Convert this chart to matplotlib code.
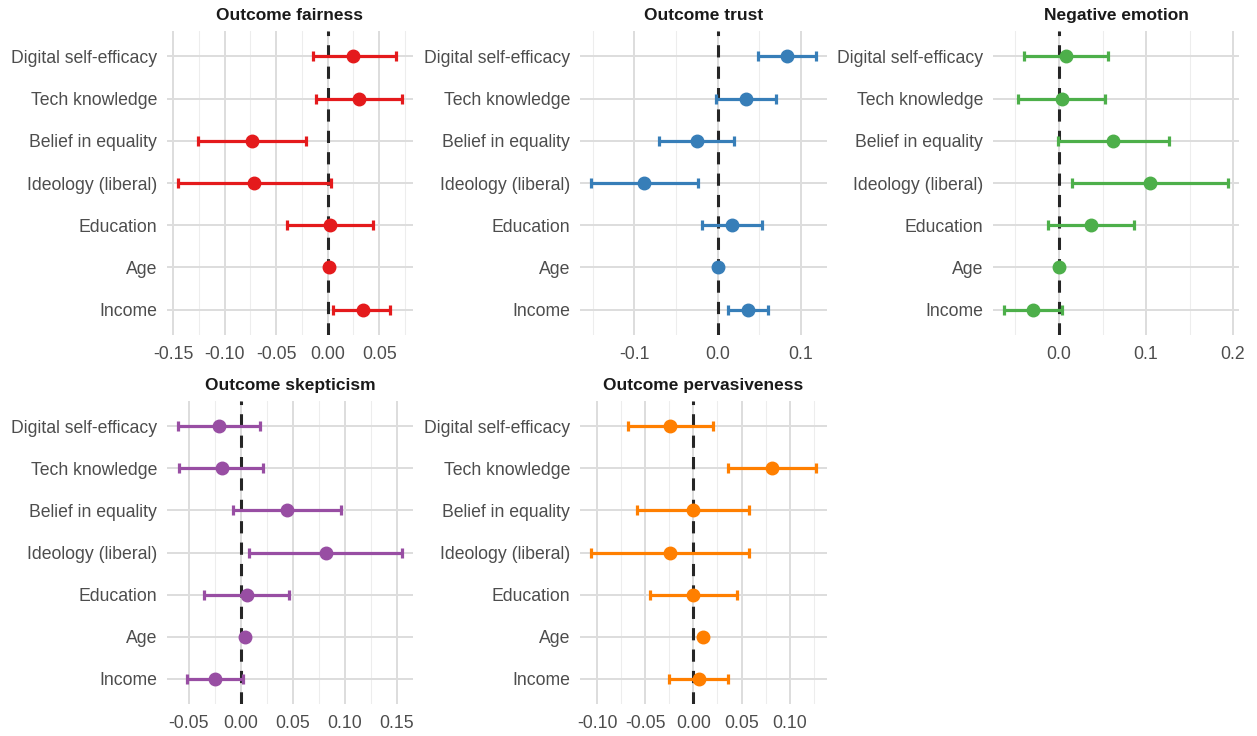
import numpy as np
import matplotlib
matplotlib.use("Agg")
import matplotlib.pyplot as plt
from matplotlib.ticker import FixedLocator

plt.rcParams['font.family'] = ['Liberation Sans', 'DejaVu Sans']

predictors = ["Digital self-efficacy", "Tech knowledge", "Belief in equality",
              "Ideology (liberal)", "Education", "Age", "Income"]

titles = ["Outcome fairness", "Outcome trust", "Negative emotion",
          "Outcome skepticism", "Outcome pervasiveness"]
colors = ["#E41A1C", "#377EB8", "#4DAF4A", "#984EA3", "#FF7F00"]

# Estimates and 95% CI bounds (order follows `predictors`)
fair_est = [0.025, 0.030, -0.073, -0.071, 0.002, 0.001, 0.034]
fair_lo = [-0.014, -0.011, -0.126, -0.145, -0.039, -0.001, 0.005]
fair_hi = [0.066, 0.072, -0.021, 0.003, 0.044, 0.003, 0.061]

trust_est = [0.083, 0.034, -0.025, -0.088, 0.017, 0.000, 0.037]
trust_lo = [0.049, -0.002, -0.071, -0.152, -0.019, -0.002, 0.012]
trust_hi = [0.118, 0.070, 0.020, -0.024, 0.053, 0.002, 0.060]

neg_est = [0.008, 0.003, 0.062, 0.105, 0.037, 0.000, -0.030]
neg_lo = [-0.040, -0.047, -0.001, 0.015, -0.013, -0.002, -0.063]
neg_hi = [0.056, 0.053, 0.126, 0.194, 0.086, 0.002, 0.003]

skep_est = [-0.021, -0.018, 0.045, 0.082, 0.006, 0.004, -0.025]
skep_lo = [-0.060, -0.059, -0.007, 0.008, -0.035, 0.002, -0.052]
skep_hi = [0.019, 0.022, 0.097, 0.155, 0.047, 0.006, 0.002]

perv_est = [-0.024, 0.082, 0.000, -0.024, 0.000, 0.010, 0.006]
perv_lo = [-0.068, 0.036, -0.058, -0.106, -0.045, 0.008, -0.025]
perv_hi = [0.020, 0.127, 0.058, 0.058, 0.045, 0.012, 0.036]

ests = [fair_est, trust_est, neg_est, skep_est, perv_est]
los = [fair_lo, trust_lo, neg_lo, skep_lo, perv_lo]
his = [fair_hi, trust_hi, neg_hi, skep_hi, perv_hi]

major_ticks = [[-0.15, -0.10, -0.05, 0.00, 0.05],
               [-0.1, 0.0, 0.1],
               [0.0, 0.1, 0.2],
               [-0.05, 0.00, 0.05, 0.10, 0.15],
               [-0.10, -0.05, 0.00, 0.05, 0.10]]
tick_fmt = ["%.2f", "%.1f", "%.1f", "%.2f", "%.2f"]

W, H = 1257, 736
fig = plt.figure(figsize=(W / 100, H / 100), dpi=100)
fig.patch.set_facecolor("white")

# pixel boxes: (left, top, right, bottom)
boxes = [(167, 31, 413, 335), (580, 31, 827, 335), (993, 31, 1239, 335),
         (167, 401, 413, 704), (580, 401, 827, 704)]

ypos = np.arange(len(predictors))[::-1] + 1  # first predictor at top

for i in range(5):
    l, t, r, b = boxes[i]
    ax = fig.add_axes([l / W, 1 - b / H, (r - l) / W, (b - t) / H])
    est = np.array(ests[i]); lo = np.array(los[i]); hi = np.array(his[i])
    xmin, xmax = lo.min(), hi.max()
    pad = (xmax - xmin) * 0.05
    ax.set_xlim(xmin - pad, xmax + pad)
    ax.set_ylim(0.4, len(predictors) + 0.6)

    mt = major_ticks[i]
    step = mt[1] - mt[0]
    minors = [m - step / 2 for m in mt] + [mt[-1] + step / 2]
    ax.xaxis.set_major_locator(FixedLocator(mt))
    ax.xaxis.set_minor_locator(FixedLocator(minors))
    ax.set_xticklabels([(tick_fmt[i] % v).replace("−", "-") for v in mt])
    ax.set_yticks(ypos)
    ax.set_yticklabels(predictors)

    ax.grid(which="major", axis="both", color="#dddddd", linewidth=1.4, zorder=0)
    ax.grid(which="minor", axis="x", color="#ededed", linewidth=0.8, zorder=0)
    ax.set_axisbelow(True)
    for s in ax.spines.values():
        s.set_visible(False)
    ax.tick_params(which="both", length=0)
    ax.tick_params(axis="y", labelsize=12.7, labelcolor="#4d4d4d", pad=7)
    ax.tick_params(axis="x", labelsize=12.7, labelcolor="#4d4d4d", pad=8)

    ax.axvline(0, color="#262626", linestyle=(0, (4, 3)), linewidth=2.2, zorder=2)
    ax.errorbar(est, ypos, xerr=[est - lo, hi - est], fmt="o", color=colors[i],
                ecolor=colors[i], elinewidth=2.3, capsize=3.8, capthick=2.3,
                markersize=9, zorder=3)
    ax.set_title(titles[i], fontsize=12.5, fontweight="bold", color="#1a1a1a", pad=8)

fig.savefig("out.png", dpi=100, facecolor="white")
